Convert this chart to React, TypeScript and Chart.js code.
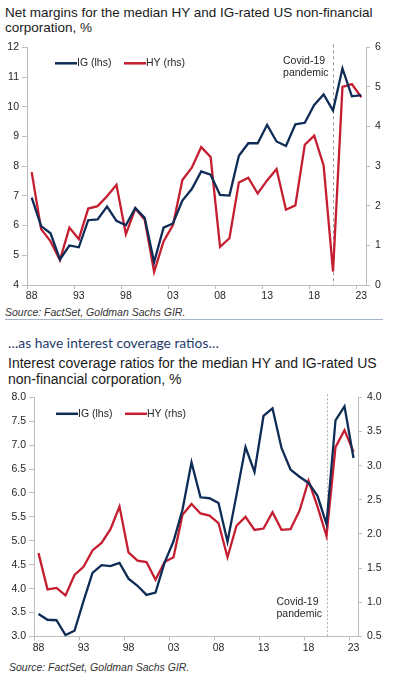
import React, { useEffect, useRef } from 'react';
import { Chart, registerables } from 'chart.js';

Chart.register(...registerables);

const years = ['88','89','90','91','92','93','94','95','96','97','98','99','00','01','02','03','04','05','06','07','08','09','10','11','12','13','14','15','16','17','18','19','20','21','22','23'];

const marginIG = [6.94,5.98,5.74,4.86,5.33,5.27,6.18,6.21,6.64,6.16,6.01,6.59,6.26,4.77,5.93,6.07,6.84,7.23,7.82,7.71,7.03,7.01,8.35,8.77,8.77,9.39,8.83,8.68,9.41,9.46,10.06,10.41,9.87,11.29,10.35,10.39];
const marginHY = [2.85,1.41,1.10,0.63,1.45,1.16,1.93,1.99,2.24,2.53,1.28,1.93,1.65,0.33,1.10,1.51,2.65,2.96,3.48,3.23,0.96,1.18,2.59,2.71,2.31,2.64,2.93,1.90,2.01,3.54,3.77,3.02,0.34,5.00,5.07,4.74];

const icrIG = [3.47,3.35,3.34,3.03,3.12,3.74,4.33,4.49,4.47,4.54,4.21,4.06,3.87,3.92,4.54,4.99,5.65,6.64,5.91,5.89,5.79,4.98,5.96,6.96,6.44,7.61,7.77,6.94,6.49,6.34,6.21,5.94,5.35,7.52,7.81,6.73];
const icrHY = [1.72,1.19,1.21,1.10,1.40,1.52,1.76,1.87,2.07,2.40,1.73,1.61,1.59,1.33,1.59,1.66,2.28,2.44,2.30,2.27,2.16,1.66,2.12,2.25,2.06,2.08,2.32,2.06,2.07,2.34,2.78,2.40,1.97,3.27,3.52,3.20];

const covidYear = '20';
const seriesNames = ['IG (lhs)', 'HY (rhs)'];
const covidLabel = ['Covid-19', 'pandemic'];

const IG_COLOR = '#0e2c55';
const HY_COLOR = '#c41e30';
const AXIS_COLOR = '#bdbdbd';
const TEXT_COLOR = '#262626';
const FONT = "'Liberation Sans', Arial, sans-serif";

type Opts = {
  ig: number[]; hy: number[];
  leftMin: number; leftMax: number; leftStep: number;
  rightMin: number; rightMax: number; rightStep: number;
  decimals: number;
  leftWidth: number; rightWidth: number; topPad: number; xHeight: number;
  legendDx: number; legendDy: number;
  covidDash: number[]; covidColor: string;
  covidTextAtTop: boolean; covidDy1: number; covidDy2: number;
};

function makeConfig(o: Opts): any {
  const covidIdx = years.indexOf(covidYear);
  const overlay = {
    id: 'overlay',
    beforeDatasetsDraw(chart: any) {
      const { ctx, chartArea, scales } = chart;
      const x = Math.round(scales.x.getPixelForValue(covidIdx)) + 0.5;
      ctx.save();
      ctx.strokeStyle = o.covidColor;
      ctx.lineWidth = 1;
      ctx.setLineDash(o.covidDash);
      ctx.beginPath();
      ctx.moveTo(x, chartArea.top - 3);
      ctx.lineTo(x, chartArea.bottom);
      ctx.stroke();
      ctx.restore();
    },
    afterDatasetsDraw(chart: any) {
      const { ctx, chartArea, scales } = chart;
      const x = scales.x.getPixelForValue(covidIdx);
      ctx.save();
      ctx.font = `10.5px ${FONT}`;
      ctx.fillStyle = TEXT_COLOR;
      ctx.textBaseline = 'middle';
      ctx.textAlign = 'left';
      const base = o.covidTextAtTop ? chartArea.top : chartArea.bottom;
      ctx.fillText(covidLabel[0], x - 50, base + o.covidDy1);
      ctx.fillText(covidLabel[1], x - 50, base + o.covidDy2);
      const lx = chartArea.left + o.legendDx;
      const ly = chartArea.top + o.legendDy;
      const items = [
        { c: IG_COLOR, t: seriesNames[0], x: lx },
        { c: HY_COLOR, t: seriesNames[1], x: lx + 69 },
      ];
      items.forEach((it) => {
        ctx.strokeStyle = it.c;
        ctx.lineWidth = 2.5;
        ctx.beginPath();
        ctx.moveTo(it.x, ly);
        ctx.lineTo(it.x + 22, ly);
        ctx.stroke();
        ctx.fillText(it.t, it.x + 22, ly);
      });
      ctx.restore();
    },
  };
  const fmt = (v: any) => Number(v).toFixed(o.decimals);
  return {
    type: 'line',
    data: {
      labels: years,
      datasets: [
        { label: seriesNames[0], data: o.ig, yAxisID: 'yL', borderColor: IG_COLOR, borderWidth: 2.3, pointRadius: 0, tension: 0, fill: false },
        { label: seriesNames[1], data: o.hy, yAxisID: 'yR', borderColor: HY_COLOR, borderWidth: 2.3, pointRadius: 0, tension: 0, fill: false },
      ],
    },
    options: {
      responsive: false,
      animation: false,
      devicePixelRatio: 1,
      layout: { padding: { top: o.topPad, left: 0, right: 0, bottom: 0 } },
      plugins: { legend: { display: false }, tooltip: { enabled: false } },
      scales: {
        x: {
          type: 'category',
          offset: true,
          afterFit: (s: any) => { s.height = o.xHeight; },
          border: { display: true, color: AXIS_COLOR, width: 1 },
          grid: {
            offset: true,
            drawOnChartArea: false,
            drawTicks: true,
            tickLength: 4,
            color: (c: any) => (c.index !== undefined && c.index % 5 === 0 ? AXIS_COLOR : 'rgba(0,0,0,0)'),
            tickColor: (c: any) => (c.index !== undefined && c.index % 5 === 0 ? AXIS_COLOR : 'rgba(0,0,0,0)'),
          },
          ticks: {
            autoSkip: false,
            maxRotation: 0,
            minRotation: 0,
            padding: 1,
            color: TEXT_COLOR,
            font: { family: FONT, size: 10.5 },
            callback: (_v: any, i: number) => (i % 5 === 0 ? years[i] : ''),
          },
        },
        yL: {
          type: 'linear',
          position: 'left',
          min: o.leftMin,
          max: o.leftMax,
          afterFit: (s: any) => { s.width = o.leftWidth; },
          border: { display: true, color: AXIS_COLOR, width: 1 },
          grid: { drawOnChartArea: false, drawTicks: true, tickLength: 5, color: AXIS_COLOR, tickColor: AXIS_COLOR },
          ticks: { stepSize: o.leftStep, padding: 3, color: TEXT_COLOR, font: { family: FONT, size: 10.5 }, callback: fmt },
        },
        yR: {
          type: 'linear',
          position: 'right',
          min: o.rightMin,
          max: o.rightMax,
          afterFit: (s: any) => { s.width = o.rightWidth; },
          border: { display: true, color: AXIS_COLOR, width: 1 },
          grid: { drawOnChartArea: false, drawTicks: true, tickLength: 4, color: AXIS_COLOR, tickColor: AXIS_COLOR },
          ticks: { stepSize: o.rightStep, padding: 5, color: TEXT_COLOR, font: { family: FONT, size: 10.5 }, callback: fmt },
        },
      },
    },
    plugins: [overlay],
  };
}

function ChartBox({ top, height, opts }: { top: number; height: number; opts: Opts }) {
  const ref = useRef<HTMLCanvasElement | null>(null);
  useEffect(() => {
    const chart = new Chart(ref.current as HTMLCanvasElement, makeConfig(opts));
    return () => chart.destroy();
  }, []);
  return (
    <div style={{ position: 'absolute', left: 0, top, width: 394, height }}>
      <canvas ref={ref} width={394} height={height} style={{ display: 'block' }} />
    </div>
  );
}

export default function App() {
  useEffect(() => {
    document.body.style.margin = '0';
    document.body.style.background = '#ffffff';
  }, []);
  const titleStyle: React.CSSProperties = {
    position: 'absolute', left: 5, fontFamily: FONT, color: '#1a1a1a', whiteSpace: 'nowrap',
  };
  const sourceStyle: React.CSSProperties = {
    position: 'absolute', fontFamily: FONT, fontStyle: 'italic', fontSize: '10.5px', lineHeight: '12px', color: '#333', whiteSpace: 'nowrap',
  };
  return (
    <div style={{ position: 'relative', width: 394, height: 680, overflow: 'hidden', background: '#fff' }}>
      <div style={{ ...titleStyle, top: 5, fontSize: '13.5px', lineHeight: '15px' }}>
        <div>Net margins for the median HY and IG-rated US non-financial</div>
        <div>corporation, %</div>
      </div>
      <ChartBox
        top={36}
        height={270}
        opts={{
          ig: marginIG, hy: marginHY,
          leftMin: 4, leftMax: 12, leftStep: 1,
          rightMin: 0, rightMax: 6, rightStep: 1,
          decimals: 0,
          leftWidth: 27, rightWidth: 28, topPad: 7, xHeight: 21,
          legendDx: 28, legendDy: 16,
          covidDash: [3, 3], covidColor: '#9a9a9a',
          covidTextAtTop: true, covidDy1: 13.7, covidDy2: 26,
        }}
      />
      <div style={{ ...sourceStyle, left: 5, top: 306 }}>Source: FactSet, Goldman Sachs GIR.</div>
      <div style={{ position: 'absolute', left: 5, top: 319, width: 378, height: 1, background: '#a6b5c9' }} />
      <div style={{ position: 'absolute', left: 8, top: 335, fontFamily: "Lato, 'Open Sans', sans-serif", fontSize: '13.8px', lineHeight: '16px', color: '#1f3b6a', whiteSpace: 'nowrap' }}>
        …as have interest coverage ratios…
      </div>
      <div style={{ ...titleStyle, left: 8, top: 355, fontSize: '14px', lineHeight: '16px' }}>
        <div>Interest coverage ratios for the median HY and IG-rated US</div>
        <div>non-financial corporation, %</div>
      </div>
      <ChartBox
        top={386}
        height={270}
        opts={{
          ig: icrIG, hy: icrHY,
          leftMin: 3, leftMax: 8, leftStep: 0.5,
          rightMin: 0.5, rightMax: 4, rightStep: 0.5,
          decimals: 1,
          leftWidth: 34, rightWidth: 36, topPad: 9.5, xHeight: 19.5,
          legendDx: 22, legendDy: 16.5,
          covidDash: [2, 2], covidColor: '#b0b0b0',
          covidTextAtTop: false, covidDy1: -34, covidDy2: -22,
        }}
      />
      <div style={{ ...sourceStyle, left: 9, top: 661 }}>Source: FactSet, Goldman Sachs GIR.</div>
    </div>
  );
}
